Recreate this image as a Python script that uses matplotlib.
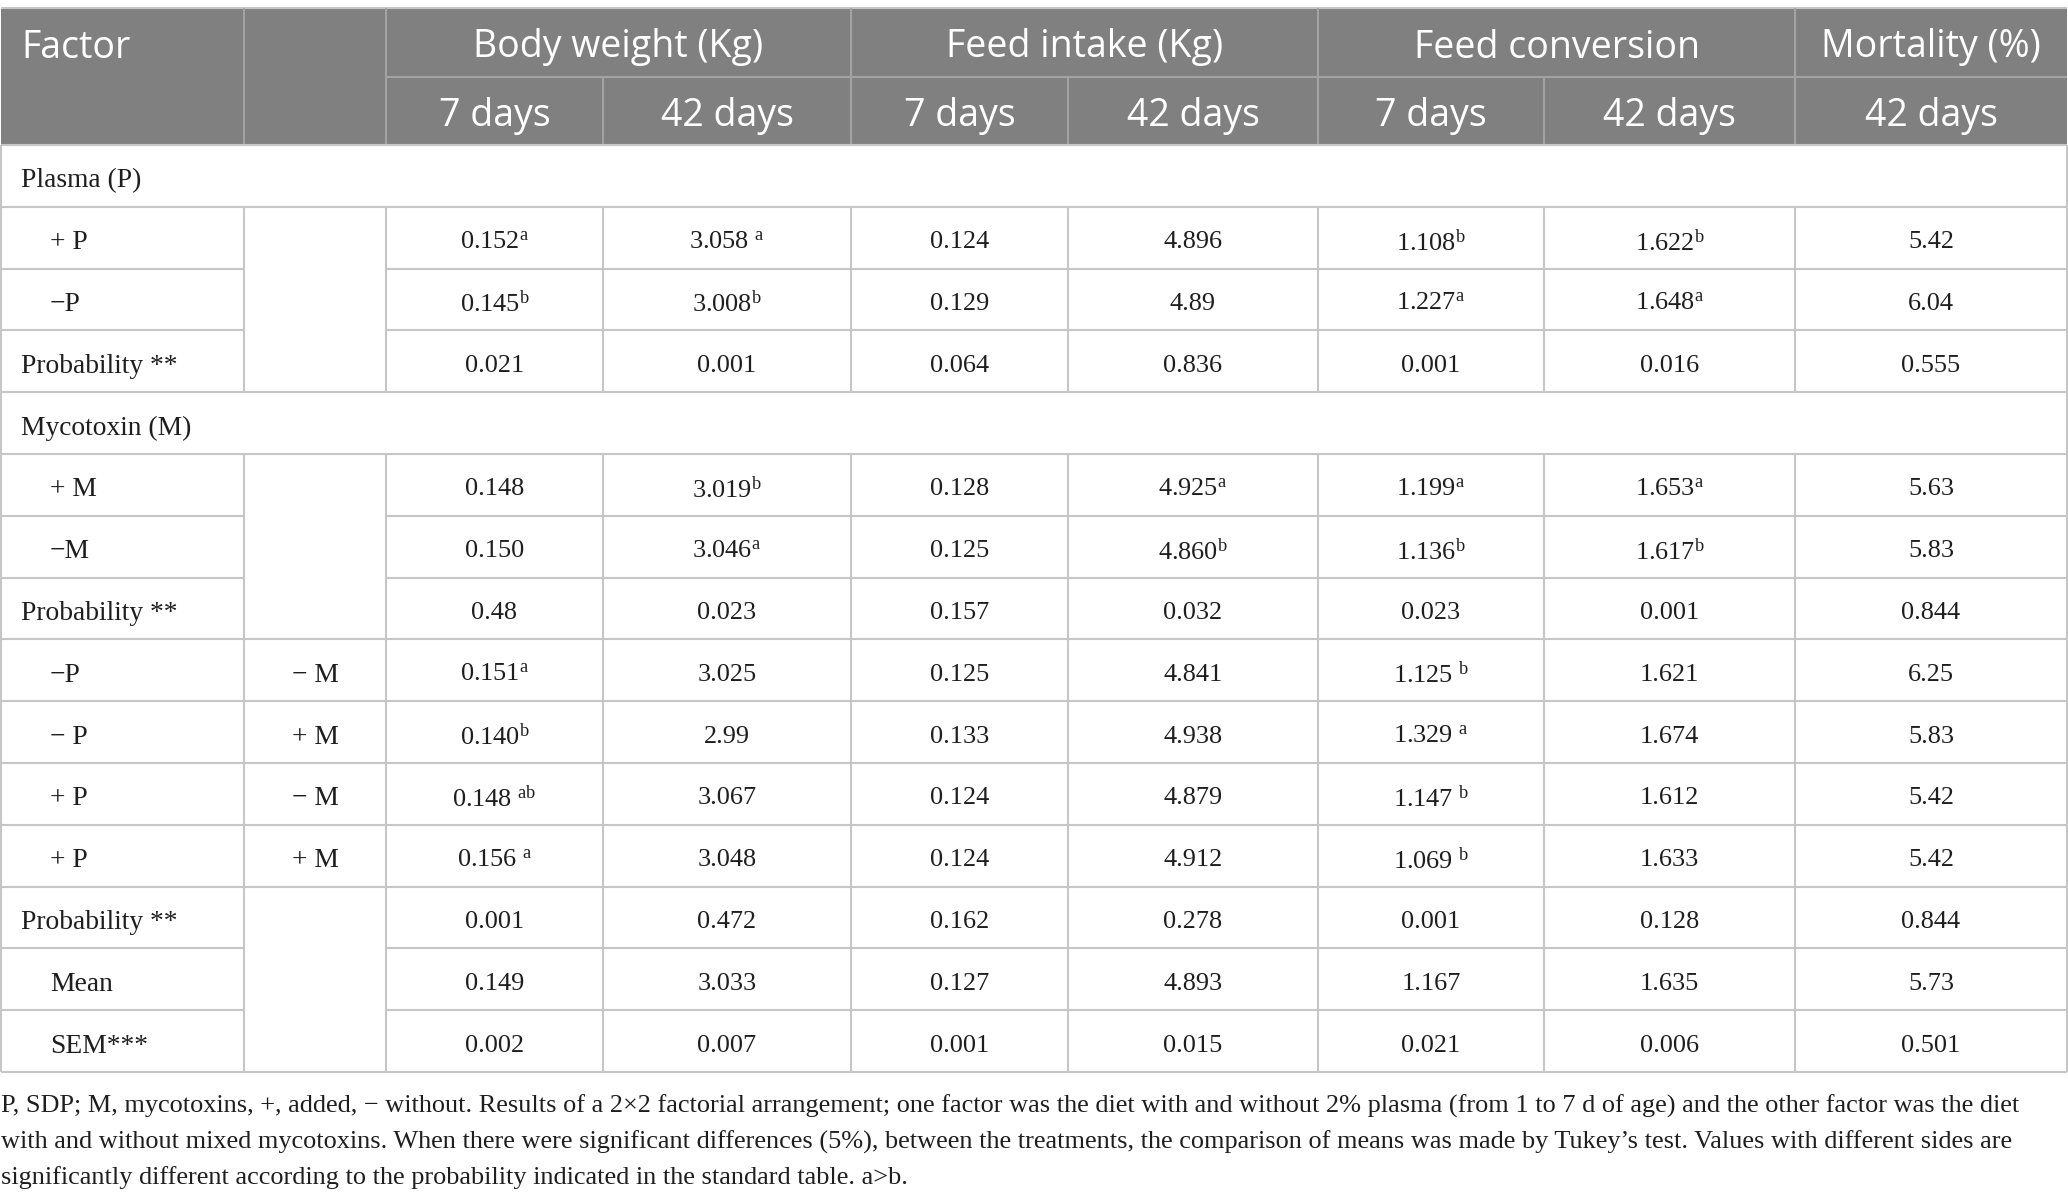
import matplotlib
matplotlib.use("Agg")
import matplotlib.pyplot as plt
from matplotlib.lines import Line2D
from matplotlib.patches import Rectangle

plt.rcParams['mathtext.fontset'] = 'custom'
plt.rcParams['mathtext.rm'] = 'Liberation Serif'
plt.rcParams['mathtext.it'] = 'Liberation Serif:italic'
plt.rcParams['mathtext.bf'] = 'Liberation Serif:bold'

# ---------------- data ----------------
group_headers = ["Body weight (Kg)", "Feed intake (Kg)", "Feed conversion", "Mortality (%)"]
group_spans = [2, 2, 2, 1]
sub_headers = ["7 days", "42 days", "7 days", "42 days", "7 days", "42 days", "42 days"]

row_labels = ["Plasma (P)", "+ P", "\u2212P", "Probability **",
              "Mycotoxin (M)", "+ M", "\u2212M", "Probability **",
              "\u2212P", "\u2212 P", "+ P", "+ P",
              "Probability **", "Mean", "SEM***"]
row_labels2 = ["", "", "", "", "", "", "", "",
               "\u2212 M", "+ M", "\u2212 M", "+ M", "", "", ""]
row_kind = ["section", "ind", "ind", "plain", "section", "ind", "ind", "plain",
            "ind", "ind", "ind", "ind", "plain", "ind", "ind"]

bw7 = ["", "0.152|a", "0.145|b", "0.021", "", "0.148", "0.150", "0.48",
       "0.151|a", "0.140|b", "0.148 |ab", "0.156 |a", "0.001", "0.149", "0.002"]
bw42 = ["", "3.058 |a", "3.008|b", "0.001", "", "3.019|b", "3.046|a", "0.023",
        "3.025", "2.99", "3.067", "3.048", "0.472", "3.033", "0.007"]
fi7 = ["", "0.124", "0.129", "0.064", "", "0.128", "0.125", "0.157",
       "0.125", "0.133", "0.124", "0.124", "0.162", "0.127", "0.001"]
fi42 = ["", "4.896", "4.89", "0.836", "", "4.925|a", "4.860|b", "0.032",
        "4.841", "4.938", "4.879", "4.912", "0.278", "4.893", "0.015"]
fc7 = ["", "1.108|b", "1.227|a", "0.001", "", "1.199|a", "1.136|b", "0.023",
       "1.125 |b", "1.329 |a", "1.147 |b", "1.069 |b", "0.001", "1.167", "0.021"]
fc42 = ["", "1.622|b", "1.648|a", "0.016", "", "1.653|a", "1.617|b", "0.001",
        "1.621", "1.674", "1.612", "1.633", "0.128", "1.635", "0.006"]
mort42 = ["", "5.42", "6.04", "0.555", "", "5.63", "5.83", "0.844",
          "6.25", "5.83", "5.42", "5.42", "0.844", "5.73", "0.501"]
data_cols = [bw7, bw42, fi7, fi42, fc7, fc42, mort42]

# rows whose second column is merged with the rows above (groups)
merged_groups = [(1, 3), (5, 7), (12, 14)]

footnote = [
    "P, SDP; M, mycotoxins, +, added, \u2212 without. Results of a 2\u00d72 factorial arrangement; one factor was the diet with and without 2% plasma (from 1 to 7 d of age) and the other factor was the diet",
    "with and without mixed mycotoxins. When there were significant differences (5%), between the treatments, the comparison of means was made by Tukey\u2019s test. Values with different sides are",
    "significantly different according to the probability indicated in the standard table. a>b.",
]

# ---------------- layout ----------------
W, H = 2068, 1203
col_edges = [1, 244, 386, 603, 851, 1068, 1318, 1544, 1795, 2067]
top = 8
hdr_split = 77
hdr_bot = 145
row_h = (1072 - hdr_bot) / len(row_labels)

HEAD_BG = "#808080"
HEAD_LINE = "#a3a3a3"
GRID = "#c6c6c6"
TXT = "#1e1e1e"
SERIF = "Liberation Serif"
SANS = "Open Sans"
BODY_FS = 18.9
LABEL_FS = 19.8
HEAD_FS = 27

fig = plt.figure(figsize=(W / 100, H / 100), dpi=100)
ax = fig.add_axes([0, 0, 1, 1])
ax.set_xlim(0, W)
ax.set_ylim(H, 0)
ax.axis("off")


def hline(x0, x1, y, color=GRID, lw=1.5):
    ax.add_line(Line2D([x0, x1], [y, y], color=color, lw=lw, solid_capstyle="butt"))


def vline(x, y0, y1, color=GRID, lw=1.5):
    ax.add_line(Line2D([x, x], [y0, y1], color=color, lw=lw, solid_capstyle="butt"))


def fmt(v):
    if "|" in v:
        base, sup = v.split("|")
        return base + r"$^{\mathrm{" + sup + "}}$"
    return v

# header
ax.add_patch(Rectangle((col_edges[0], top), col_edges[-1] - col_edges[0], hdr_bot - top,
                       facecolor=HEAD_BG, edgecolor="none"))
hline(col_edges[0], col_edges[-1], top, color=GRID)
vline(col_edges[1], top, hdr_bot, HEAD_LINE)
vline(col_edges[2], top, hdr_bot, HEAD_LINE)
hline(col_edges[2], col_edges[-1], hdr_split, HEAD_LINE)
ci = 2
for g, span in zip(group_headers, group_spans):
    x0, x1 = col_edges[ci], col_edges[ci + span]
    ax.text((x0 + x1) / 2, (top + hdr_split) / 2 + 5, g, ha="center", va="center",
            color="white", fontsize=HEAD_FS, family=SANS)
    if ci + span < len(col_edges) - 1:
        vline(x1, top, hdr_bot, HEAD_LINE)
    ci += span
for j, s in enumerate(sub_headers):
    x0, x1 = col_edges[2 + j], col_edges[3 + j]
    ax.text((x0 + x1) / 2, (hdr_split + hdr_bot) / 2 + 5, s, ha="center", va="center",
            color="white", fontsize=HEAD_FS, family=SANS)
    if 3 + j < len(col_edges) - 1:
        vline(x1, hdr_split, hdr_bot, HEAD_LINE)
ax.text(21, (top + hdr_split) / 2 + 5, "Factor", ha="left", va="center",
        color="white", fontsize=HEAD_FS, family=SANS)

# body
merged_inner = set()
for a, b in merged_groups:
    for r in range(a + 1, b + 1):
        merged_inner.add(r)

for i, lab in enumerate(row_labels):
    y0 = hdr_bot + i * row_h
    y1 = y0 + row_h
    yc = (y0 + y1) / 2 + 2
    if i in merged_inner:
        hline(col_edges[0], col_edges[1], y0)
        hline(col_edges[2], col_edges[-1], y0)
    else:
        hline(col_edges[0], col_edges[-1], y0)
    vline(col_edges[0], y0, y1)
    vline(col_edges[-1], y0, y1)
    if row_kind[i] != "section":
        for x in col_edges[1:-1]:
            vline(x, y0, y1)
    xl = 21 if row_kind[i] in ("section", "plain") else 50
    ax.text(xl, yc, lab, ha="left", va="center_baseline", fontsize=LABEL_FS,
            family=SERIF, color=TXT)
    if row_labels2[i]:
        ax.text((col_edges[1] + col_edges[2]) / 2, yc, row_labels2[i], ha="center",
                va="center_baseline", fontsize=LABEL_FS, family=SERIF, color=TXT)
    for j, col in enumerate(data_cols):
        v = col[i]
        if v:
            ax.text((col_edges[2 + j] + col_edges[3 + j]) / 2, yc, fmt(v), ha="center",
                    va="center_baseline", fontsize=BODY_FS, family=SERIF, color=TXT)

hline(col_edges[0], col_edges[-1], hdr_bot + len(row_labels) * row_h)

# footnote
for k, line in enumerate(footnote):
    ax.text(1, 1113 + k * 35.5, line, ha="left", va="baseline", fontsize=BODY_FS,
            family=SERIF, color=TXT)

fig.savefig("out.png", dpi=100)
